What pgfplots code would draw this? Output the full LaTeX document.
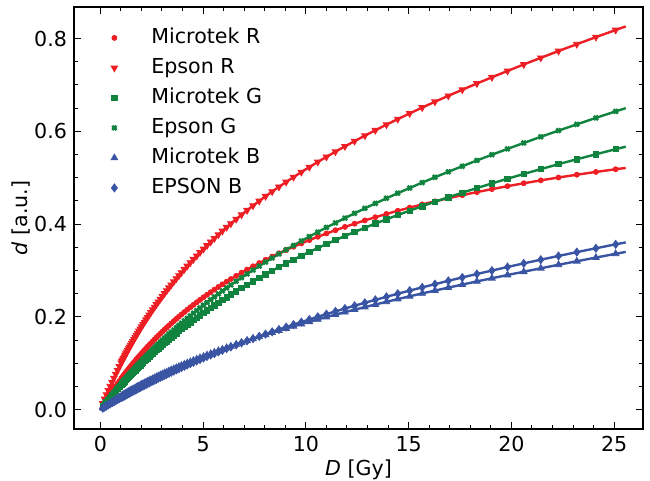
\documentclass[border=0pt]{standalone}
\usepackage{fontspec}
\setmainfont{DejaVu Sans}
\usepackage{pgfplots}
\usepackage{pgfplotstable}
\pgfplotsset{compat=1.18}
\definecolor{cR}{RGB}{237,30,36}
\definecolor{cG}{RGB}{16,132,62}
\definecolor{cB}{RGB}{58,84,164}
\pgfplotstableread{
D mR eR mG eG mB eB
0 0 0 0 0 0 0
0.12 0.0086 0.0133 0.0067 0.0071 0.0037 0.0032
0.21 0.0149 0.0230 0.0116 0.0123 0.0064 0.0056
0.30 0.0211 0.0324 0.0165 0.0175 0.0091 0.0079
0.39 0.0272 0.0417 0.0213 0.0226 0.0118 0.0103
0.48 0.0332 0.0507 0.0260 0.0275 0.0144 0.0126
0.57 0.0391 0.0595 0.0307 0.0325 0.0170 0.0148
0.66 0.0449 0.0682 0.0353 0.0374 0.0196 0.0171
0.75 0.0506 0.0767 0.0399 0.0423 0.0221 0.0194
0.84 0.0562 0.0849 0.0444 0.0471 0.0246 0.0217
0.93 0.0617 0.0930 0.0489 0.0519 0.0271 0.0239
1.02 0.0671 0.1010 0.0533 0.0566 0.0294 0.0261
1.055 0.0692 0.1041 0.0550 0.0584 0.0304 0.0270
1.09 0.0713 0.1071 0.0567 0.0602 0.0313 0.0279
1.13 0.0736 0.1105 0.0587 0.0623 0.0324 0.0289
1.17 0.0759 0.1139 0.0606 0.0644 0.0334 0.0298
1.21 0.0783 0.1173 0.0625 0.0665 0.0345 0.0308
1.25 0.0806 0.1206 0.0643 0.0685 0.0355 0.0317
1.295 0.0832 0.1243 0.0664 0.0708 0.0367 0.0328
1.34 0.0857 0.1280 0.0685 0.0730 0.0379 0.0338
1.385 0.0882 0.1316 0.0706 0.0753 0.0390 0.0349
1.43 0.0907 0.1352 0.0727 0.0775 0.0401 0.0360
1.48 0.0935 0.1392 0.0751 0.0799 0.0414 0.0372
1.53 0.0962 0.1432 0.0774 0.0823 0.0427 0.0383
1.585 0.0992 0.1474 0.0799 0.0850 0.0440 0.0397
1.64 0.1021 0.1516 0.0823 0.0877 0.0453 0.0410
1.70 0.1053 0.1562 0.0850 0.0906 0.0468 0.0424
1.76 0.1085 0.1607 0.0877 0.0935 0.0483 0.0437
1.82 0.1116 0.1652 0.0904 0.0963 0.0498 0.0451
1.88 0.1147 0.1696 0.0930 0.0991 0.0513 0.0465
1.945 0.1180 0.1743 0.0958 0.1022 0.0528 0.0480
2.01 0.1213 0.1790 0.0986 0.1052 0.0543 0.0495
2.08 0.1248 0.1839 0.1016 0.1084 0.0560 0.0511
2.15 0.1283 0.1888 0.1046 0.1116 0.0576 0.0527
2.225 0.1320 0.1939 0.1078 0.1151 0.0593 0.0544
2.30 0.1356 0.1990 0.1109 0.1185 0.0610 0.0560
2.38 0.1394 0.2043 0.1142 0.1221 0.0628 0.0578
2.46 0.1431 0.2096 0.1175 0.1256 0.0646 0.0596
2.55 0.1473 0.2154 0.1211 0.1295 0.0666 0.0616
2.64 0.1514 0.2212 0.1247 0.1334 0.0686 0.0635
2.73 0.1555 0.2268 0.1283 0.1373 0.0706 0.0655
2.82 0.1595 0.2324 0.1319 0.1412 0.0725 0.0675
2.92 0.1639 0.2384 0.1358 0.1454 0.0747 0.0696
3.02 0.1682 0.2444 0.1397 0.1495 0.0768 0.0717
3.125 0.1726 0.2506 0.1437 0.1539 0.0790 0.0739
3.23 0.1770 0.2567 0.1476 0.1582 0.0811 0.0761
3.34 0.1815 0.2629 0.1517 0.1626 0.0834 0.0784
3.45 0.1860 0.2690 0.1558 0.1670 0.0856 0.0806
3.575 0.1909 0.2758 0.1603 0.1719 0.0881 0.0832
3.70 0.1958 0.2826 0.1648 0.1768 0.0905 0.0857
3.825 0.2006 0.2891 0.1692 0.1817 0.0929 0.0883
3.95 0.2053 0.2956 0.1736 0.1865 0.0953 0.0908
4.09 0.2104 0.3027 0.1784 0.1917 0.0980 0.0936
4.23 0.2155 0.3097 0.1832 0.1969 0.1006 0.0963
4.38 0.2208 0.3170 0.1882 0.2024 0.1034 0.0992
4.53 0.2260 0.3242 0.1931 0.2079 0.1061 0.1021
4.69 0.2314 0.3316 0.1983 0.2136 0.1090 0.1051
4.85 0.2368 0.3390 0.2034 0.2193 0.1118 0.1081
5.02 0.2423 0.3465 0.2088 0.2252 0.1148 0.1113
5.19 0.2477 0.3540 0.2142 0.2310 0.1177 0.1145
5.37 0.2533 0.3617 0.2197 0.2371 0.1208 0.1178
5.55 0.2588 0.3693 0.2251 0.2431 0.1238 0.1210
5.745 0.2645 0.3773 0.2308 0.2495 0.1270 0.1245
5.94 0.2702 0.3852 0.2365 0.2559 0.1302 0.1280
6.145 0.2759 0.3932 0.2423 0.2624 0.1335 0.1316
6.35 0.2816 0.4011 0.2481 0.2688 0.1367 0.1351
6.61 0.2885 0.4108 0.2552 0.2768 0.1407 0.1396
6.87 0.2952 0.4202 0.2622 0.2846 0.1446 0.1439
7.14 0.3020 0.4298 0.2693 0.2926 0.1487 0.1484
7.43 0.3091 0.4398 0.2768 0.3010 0.1529 0.1531
7.73 0.3161 0.4499 0.2843 0.3095 0.1572 0.1579
8.04 0.3231 0.4600 0.2920 0.3182 0.1615 0.1629
8.36 0.3301 0.4702 0.2997 0.3269 0.1660 0.1678
8.69 0.3371 0.4803 0.3074 0.3357 0.1704 0.1728
9.04 0.3442 0.4908 0.3154 0.3448 0.1751 0.1781
9.40 0.3513 0.5013 0.3234 0.3540 0.1798 0.1834
9.78 0.3585 0.5122 0.3317 0.3636 0.1847 0.1889
10.17 0.3656 0.5229 0.3400 0.3731 0.1896 0.1945
10.58 0.3727 0.5340 0.3484 0.3829 0.1947 0.2002
11.00 0.3798 0.5449 0.3569 0.3928 0.1997 0.2060
11.44 0.3868 0.5562 0.3656 0.4027 0.2049 0.2119
11.90 0.3940 0.5676 0.3744 0.4130 0.2102 0.2180
12.37 0.4009 0.5789 0.3831 0.4233 0.2156 0.2241
12.87 0.4080 0.5907 0.3921 0.4340 0.2212 0.2304
13.38 0.4149 0.6023 0.4012 0.4446 0.2267 0.2368
13.92 0.4219 0.6144 0.4104 0.4557 0.2325 0.2433
14.47 0.4287 0.6264 0.4196 0.4666 0.2384 0.2500
15.05 0.4356 0.6386 0.4290 0.4779 0.2444 0.2567
15.66 0.4425 0.6513 0.4386 0.4895 0.2506 0.2636
16.28 0.4491 0.6638 0.4482 0.5010 0.2568 0.2706
16.93 0.4558 0.6766 0.4578 0.5128 0.2631 0.2778
17.61 0.4624 0.6897 0.4677 0.5248 0.2697 0.2851
18.32 0.4690 0.7031 0.4777 0.5372 0.2765 0.2925
19.05 0.4754 0.7165 0.4877 0.5496 0.2833 0.2999
19.81 0.4818 0.7302 0.4979 0.5622 0.2903 0.3076
20.60 0.4881 0.7442 0.5081 0.5750 0.2974 0.3154
21.43 0.4943 0.7585 0.5186 0.5882 0.3048 0.3233
22.29 0.5005 0.7731 0.5292 0.6016 0.3124 0.3314
23.18 0.5065 0.7878 0.5398 0.6150 0.3200 0.3396
24.11 0.5125 0.8031 0.5506 0.6290 0.3279 0.3480
25.07 0.5183 0.8184 0.5615 0.6430 0.3360 0.3564
25.56 0.5211 0.8262 0.5670 0.6500 0.3401 0.3606
}\data
\newcommand{\lbl}{\fontsize{10.3}{12.4}\selectfont}
\begin{document}
\begin{tikzpicture}
\useasboundingbox (-37pt,-26pt) rectangle (288pt,214.5pt);
\begin{axis}[
  scale only axis, width=284.5pt, height=211pt,
  xmin=-1.28, xmax=26.4, ymin=-0.0416, ymax=0.868,
  xtick={0,5,10,15,20,25}, ytick={0,0.2,0.4,0.6,0.8},
  minor x tick num=4, minor y tick num=3,
  tick align=inside, major tick length=3.5pt, minor tick length=2pt,
  every tick/.style={black, line width=0.5pt},
  axis line style={line width=0.6pt},
  tick label style={font=\lbl},
  /pgf/number format/assume math mode=true,
  yticklabel style={/pgf/number format/fixed, /pgf/number format/fixed zerofill, /pgf/number format/precision=1},
  scaled y ticks=false,
  xlabel={\textit{D} [Gy]}, ylabel={\textit{d} [a.u.]},
  label style={font=\lbl},
  xlabel style={yshift=3pt},
  ylabel style={yshift=-5pt},
  mylegend/.style={legend image code/.code={\path[draw=none] (-2pt,0pt) -- (16.5pt,0pt); \draw[##1] plot coordinates {(0pt,0pt)};}},
  legend style={draw=none, fill=none, at={(0,1)}, anchor=north west, xshift=15pt, yshift=-6pt,
    font=\lbl, row sep=0.5pt, nodes={text height=8pt, text depth=2.5pt}},
  legend cell align=left,
]
\addplot[cR, line width=1.2pt, line join=round, forget plot] table[x=D,y=mR]{\data};
\addplot[cR, line width=1.2pt, line join=round, forget plot] table[x=D,y=eR]{\data};
\addplot[cG, line width=1.2pt, line join=round, forget plot] table[x=D,y=mG]{\data};
\addplot[cG, line width=1.2pt, line join=round, forget plot] table[x=D,y=eG]{\data};
\addplot[cB, line width=1.2pt, line join=round, forget plot] table[x=D,y=mB]{\data};
\addplot[cB, line width=1.2pt, line join=round, forget plot] table[x=D,y=eB]{\data};
\addplot[only marks, mark=*, cR, mark size=1.25pt, restrict x to domain=0.05:25.3, mylegend] table[x=D,y=mR]{\data};
\addlegendentry{Microtek R}
\addplot[only marks, mark=triangle*, cR, mark size=1.9pt, mark options={rotate=180}, restrict x to domain=0.05:25.3, mylegend] table[x=D,y=eR]{\data};
\addlegendentry{Epson R}
\addplot[only marks, mark=square*, cG, mark size=1.35pt, restrict x to domain=0.05:25.3, mylegend] table[x=D,y=mG]{\data};
\addlegendentry{Microtek G}
\addplot[only marks, mark=x, cG, mark size=1.5pt, mark options={line width=1.3pt}, restrict x to domain=0.05:25.3, mylegend] table[x=D,y=eG]{\data};
\addlegendentry{Epson G}
\addplot[only marks, mark=triangle*, cB, mark size=1.9pt, restrict x to domain=0.05:25.3, mylegend] table[x=D,y=mB]{\data};
\addlegendentry{Microtek B}
\addplot[only marks, mark=diamond*, cB, mark size=2pt, restrict x to domain=0.05:25.3, mylegend] table[x=D,y=eB]{\data};
\addlegendentry{EPSON B}
\end{axis}
\end{tikzpicture}
\end{document}
